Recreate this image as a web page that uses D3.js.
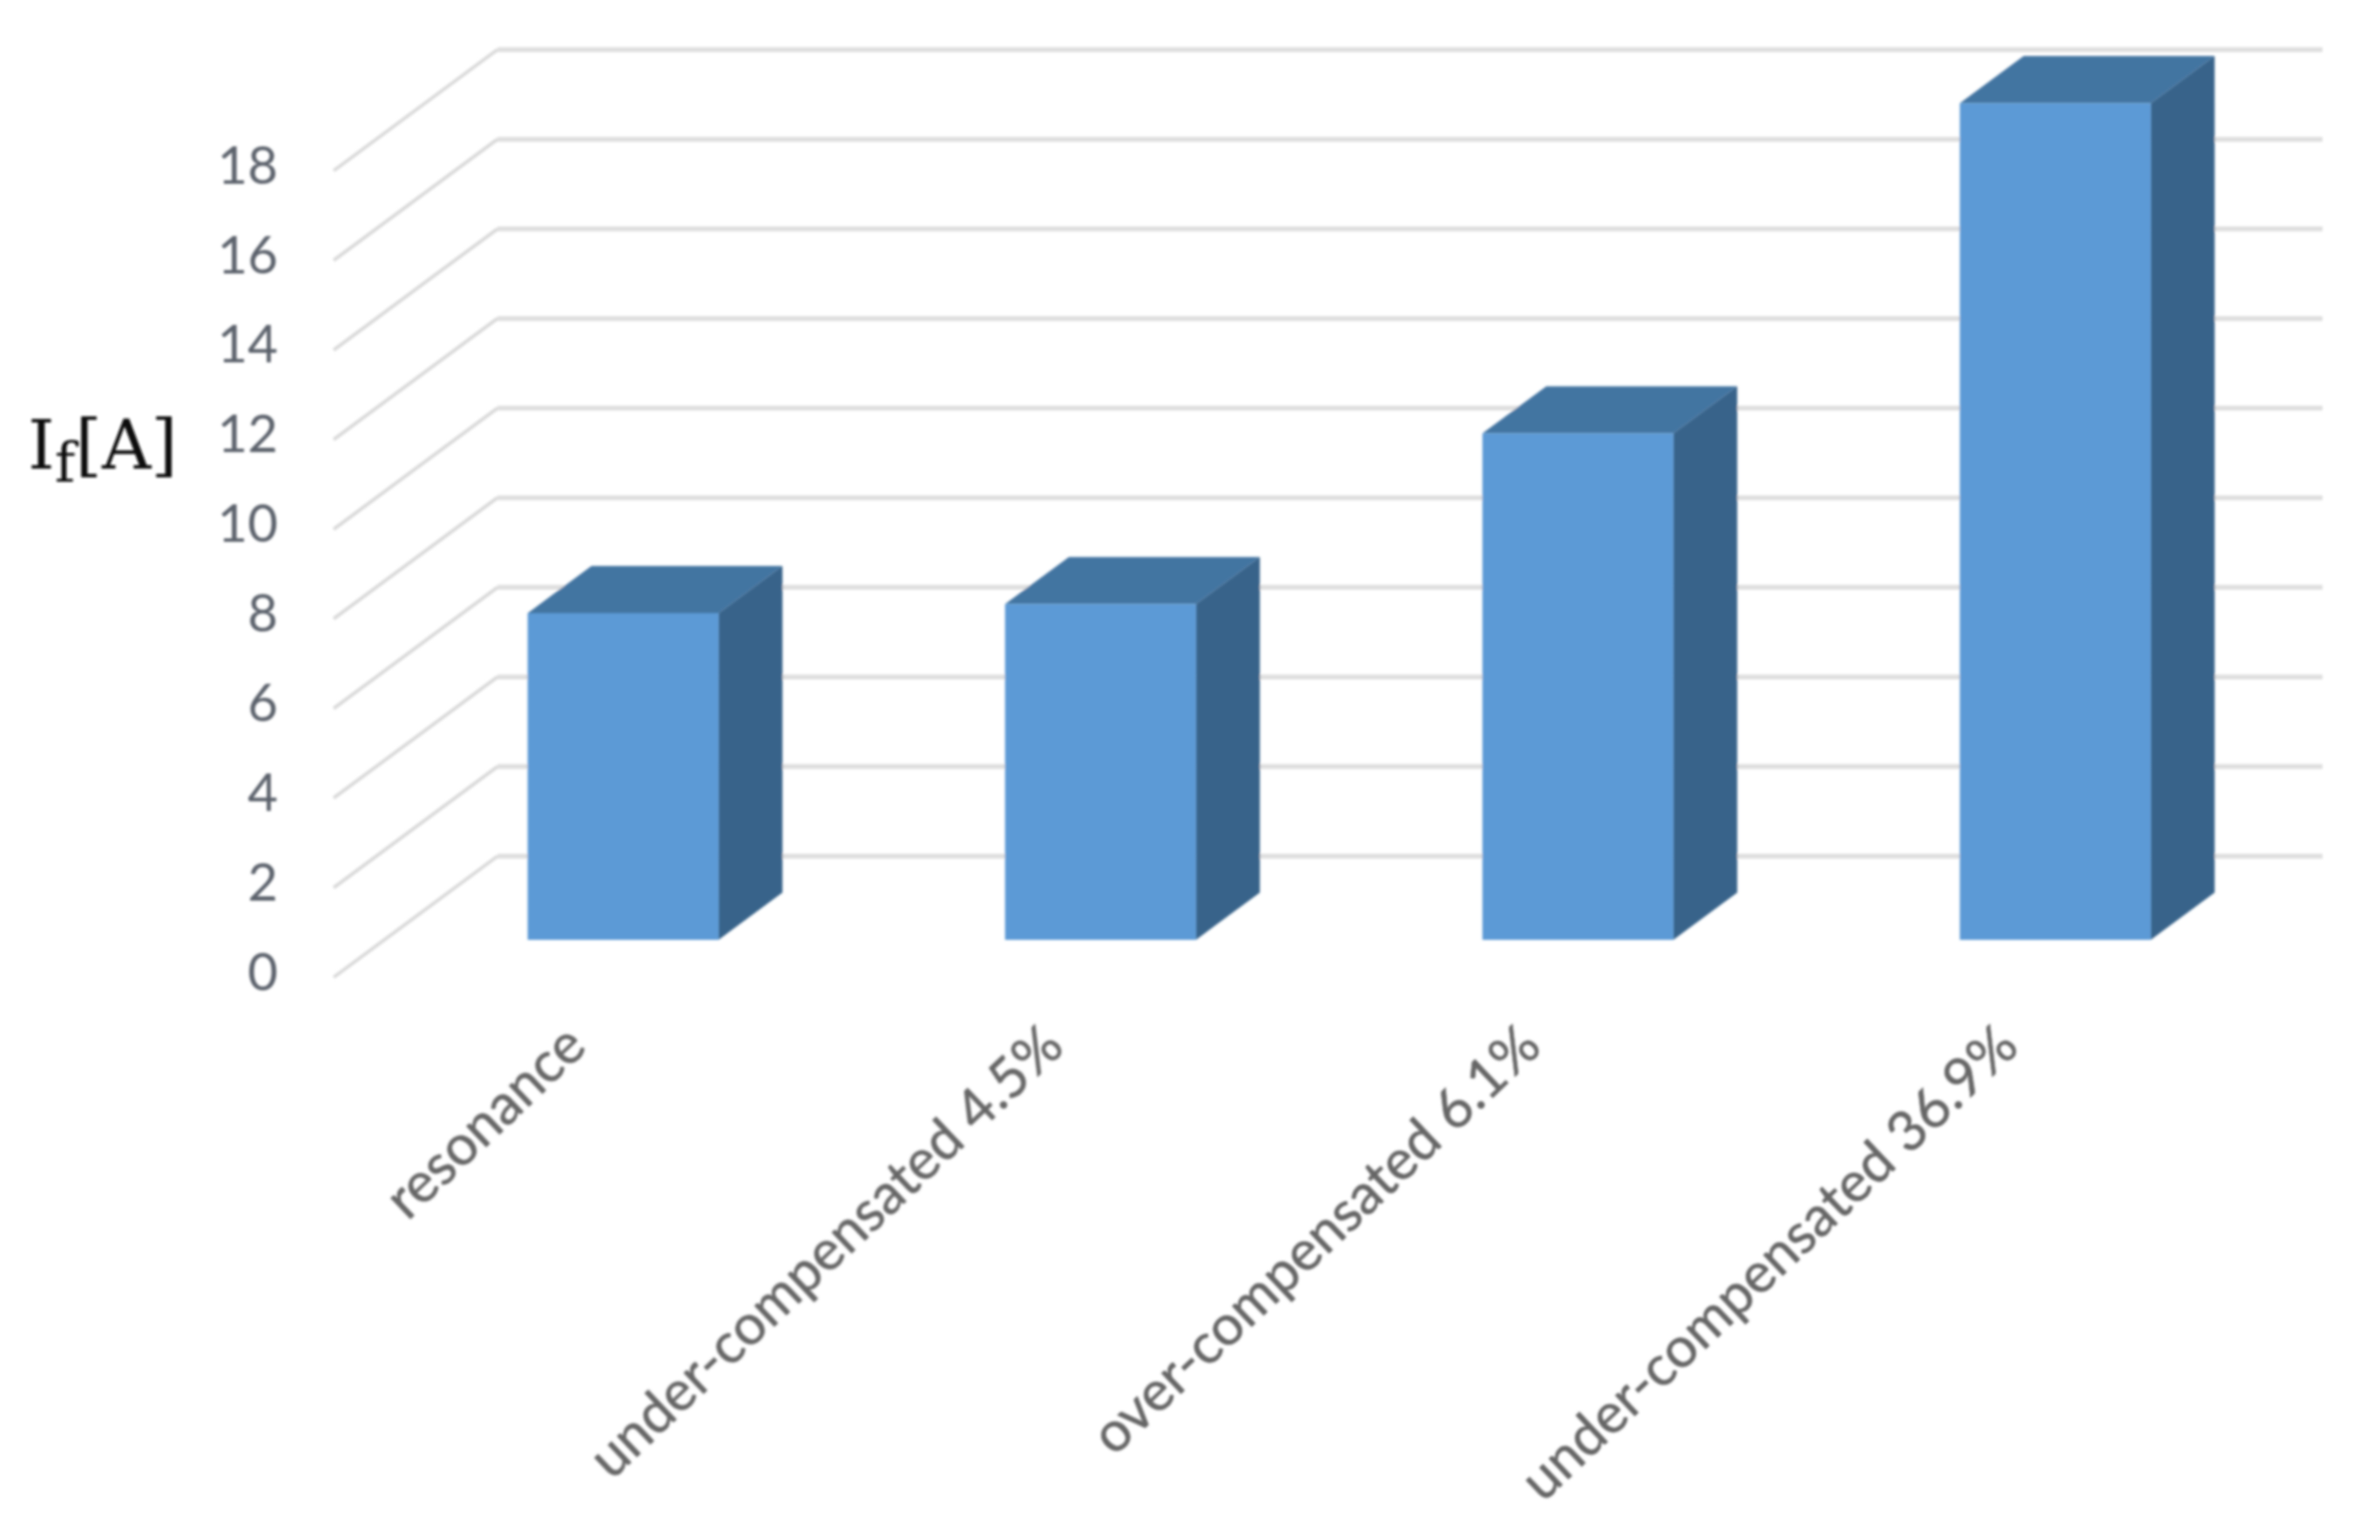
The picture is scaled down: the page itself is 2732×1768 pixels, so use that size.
<!DOCTYPE html>
<html><head><meta charset="utf-8">
<script src="https://cdnjs.cloudflare.com/ajax/libs/d3/7.8.5/d3.min.js"></script>
<style>html,body{margin:0;padding:0;background:#fff}svg{display:block}</style>
</head><body><svg id="c" width="2732" height="1768"></svg>
<script>
const categories = ["resonance","under-compensated 4.5%","over-compensated 6.1%","under-compensated 36.9%"];
const values = [7.29,7.49,11.3,18.67];
const yTicks = [0,2,4,6,8,10,12,14,16,18];
const barDepth = [0.31,0.70];

const svg = d3.select("#c");
const defs = svg.append("defs");
defs.append("filter").attr("id","soft").attr("x","-5%").attr("y","-5%").attr("width","110%").attr("height","110%")
  .append("feGaussianBlur").attr("stdDeviation",1.5);
defs.append("clipPath").attr("id","plot").append("rect").attr("x",0).attr("y",0).attr("width",2666).attr("height",1768);

const x = d3.scaleBand().domain(categories).range([383,2575]).paddingInner(0.6).paddingOuter(0.3);
const y = d3.scaleLinear().domain([0,18]).range([1122,196]);
const dx = d3.scaleLinear().domain([0,1]).range([0,188]);
const dy = d3.scaleLinear().domain([0,1]).range([0,-139]);
const P = (px,v,d)=>[px+dx(d),y(v)+dy(d)];
const root = svg.append("g").attr("filter","url(#soft)");

const grid = root.append("g").attr("clip-path","url(#plot)");
grid.selectAll("path.wall").data(yTicks).join("path").attr("class","wall")
  .attr("fill","none").attr("stroke","#dedede").attr("stroke-width",5.5)
  .attr("d",t=>d3.line()([P(x.range()[0],t,1),P(x.range()[1],t,1)]));
grid.selectAll("path.side").data(yTicks).join("path").attr("class","side")
  .attr("fill","none").attr("stroke","#d9d9d9").attr("stroke-width",4)
  .attr("d",t=>d3.line()([P(x.range()[0],t,0),P(x.range()[0],t,1)]));

const poly = d3.line().curve(d3.curveLinearClosed);
const bars = root.append("g").selectAll("g").data(categories.map((c,i)=>({c,v:values[i]}))).join("g");
const d0=barDepth[0], d1=barDepth[1];
bars.append("path").attr("fill","#39638a").attr("d",b=>{const r=x(b.c)+x.bandwidth();
  return poly([P(r,0,d0),P(r,b.v,d0),P(r,b.v,d1),P(r,0,d1)]);});
bars.append("path").attr("fill","#4374a1").attr("d",b=>{const l=x(b.c),r=l+x.bandwidth();
  return poly([P(l,b.v,d0),P(r,b.v,d0),P(r,b.v,d1),P(l,b.v,d1)]);});
bars.append("path").attr("fill","#5b9ad6").attr("d",b=>{const l=x(b.c),r=l+x.bandwidth();
  return poly([P(l,0,d0),P(r,0,d0),P(r,b.v,d0),P(l,b.v,d0)]);});

const ax = root.append("g").attr("transform","translate(383,-5)")
  .call(d3.axisLeft(y).tickValues(yTicks).tickSize(0).tickPadding(64));
ax.select(".domain").remove();
ax.selectAll("text").attr("font-family","Lato").attr("font-size",60).attr("fill","#5c626c");

root.append("g").selectAll("text").data(categories).join("text")
  .attr("font-family","Lato").attr("font-size",64).attr("fill","#666").attr("stroke","#666").attr("stroke-width",0.6)
  .attr("text-anchor","end")
  .attr("transform",c=>`translate(${x(c)+x.bandwidth()/2+19},1205) rotate(-43.5)`)
  .text(c=>c);

const t = root.append("text").attr("x",32).attr("y",538).attr("font-family","DejaVu Serif").attr("font-size",78).attr("fill","#111");
t.append("tspan").text("I");
t.append("tspan").attr("font-size",64).attr("dy",15).text("f");
t.append("tspan").attr("dy",-15).text("[A]");
</script></body></html>
